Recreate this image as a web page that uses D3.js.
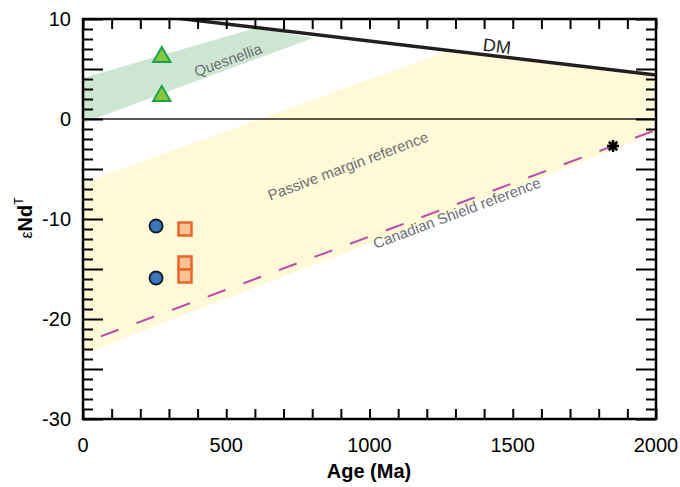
<!DOCTYPE html>
<html>
<head>
<meta charset="utf-8">
<script src="https://cdn.jsdelivr.net/npm/d3@7"></script>
<style>
  body { margin: 0; background: #fff; }
  text { font-family: "Liberation Sans", Arial, sans-serif; }
</style>
</head>
<body>
<svg id="chart" width="680" height="487"></svg>
<script>
// data (age in Ma, epsilon Nd)
var xTicks = [0, 500, 1000, 1500, 2000];
var yTicks = [10, 0, -10, -20, -30];

var dmLine = [[0, 11.2], [2000, 4.4]];
var quesnelliaBand = [[0, 4.1], [603, 9.1], [803, 8.1], [0, -0.4]];
var passiveBand = [[0, -6.4], [1274, 6.8], [2000, 4.4], [2000, -1.4], [0, -23.5]];
var shieldLine = [[0, -22.4], [2000, -1.1]];

var triangles = [[275, 6.2], [275, 2.3]];
var circles = [[255, -10.7], [255, -15.9]];
var squares = [[356, -11.0], [356, -14.4], [356, -15.7]];
var stars = [[1850, -2.7]];

var labels = [
  {text: "Quesnellia", x: 506, y: 5.9, angle: -20, color: "#6d6e71", size: 15},
  {text: "Passive margin reference", x: 925, y: -4.7, angle: -20.5, color: "#6d6e71", size: 15},
  {text: "Canadian Shield reference", x: 1305, y: -9.4, angle: -20.5, color: "#6d6e71", size: 15},
  {text: "DM", x: 1445, y: 7.3, angle: 7, color: "#231f20", size: 18}
];

var svg = d3.select("#chart");
var pLeft = 83, pRight = 656, pTop = 19, pBottom = 419;

var x = d3.scaleLinear().domain([0, 2000]).range([pLeft, pRight]);
var y = d3.scaleLinear().domain([-30, 10]).range([pBottom, pTop]);

svg.append("clipPath").attr("id", "plotClip")
  .append("rect")
  .attr("x", pLeft).attr("y", pTop)
  .attr("width", pRight - pLeft).attr("height", pBottom - pTop);

var plot = svg.append("g").attr("clip-path", "url(#plotClip)");

var line = d3.line().x(function(d) { return x(d[0]); }).y(function(d) { return y(d[1]); });

// shaded fields
plot.append("path")
  .attr("d", line(passiveBand) + "Z")
  .attr("fill", "#fff9d8");

plot.append("path")
  .attr("d", line(quesnelliaBand) + "Z")
  .attr("fill", "#cde6d4");

// zero line
plot.append("line")
  .attr("x1", x(0)).attr("x2", x(2000))
  .attr("y1", y(0)).attr("y2", y(0))
  .attr("stroke", "#231f20").attr("stroke-width", 1.5);

// Canadian shield reference
plot.append("path")
  .attr("d", line(shieldLine))
  .attr("fill", "none")
  .attr("stroke", "#b94aa7")
  .attr("stroke-width", 2)
  .attr("stroke-dasharray", "19,19")
  .attr("stroke-dashoffset", 19);

// depleted mantle
plot.append("path")
  .attr("d", line(dmLine))
  .attr("fill", "none")
  .attr("stroke", "#231f20")
  .attr("stroke-width", 3.5);

// labels
labels.forEach(function(l) {
  svg.append("text")
    .attr("transform", "translate(" + x(l.x) + "," + y(l.y) + ") rotate(" + l.angle + ")")
    .attr("text-anchor", "middle")
    .attr("dy", "0.35em")
    .attr("font-size", l.size)
    .attr("fill", l.color)
    .text(l.text);
});

// points
svg.selectAll(".tri")
  .data(triangles).enter()
  .append("path")
  .attr("class", "tri")
  .attr("transform", function(d) { return "translate(" + x(d[0]) + "," + y(d[1]) + ")"; })
  .attr("d", d3.symbol(d3.symbolTriangle, 130))
  .attr("fill", "#8cc63f")
  .attr("stroke", "#1ba64b")
  .attr("stroke-width", 2);

svg.selectAll(".circ")
  .data(circles).enter()
  .append("circle")
  .attr("class", "circ")
  .attr("cx", function(d) { return x(d[0]); })
  .attr("cy", function(d) { return y(d[1]); })
  .attr("r", 6.5)
  .attr("fill", "#3a77bc")
  .attr("stroke", "#111d2c")
  .attr("stroke-width", 2);

svg.selectAll(".sq")
  .data(squares).enter()
  .append("rect")
  .attr("class", "sq")
  .attr("x", function(d) { return x(d[0]) - 6.5; })
  .attr("y", function(d) { return y(d[1]) - 6.5; })
  .attr("width", 13).attr("height", 13)
  .attr("fill", "#fbc294")
  .attr("stroke", "#e8652c")
  .attr("stroke-width", 2.5);

var starPath = function() {
  var r = 6, p = "";
  for (var a = 0; a < 4; a++) {
    var t = a * Math.PI / 4;
    p += "M" + (-r * Math.cos(t)) + "," + (-r * Math.sin(t)) + "L" + (r * Math.cos(t)) + "," + (r * Math.sin(t));
  }
  return p;
};
svg.selectAll(".star")
  .data(stars).enter()
  .append("path")
  .attr("class", "star")
  .attr("transform", function(d) { return "translate(" + x(d[0]) + "," + y(d[1]) + ")"; })
  .attr("d", starPath())
  .attr("stroke", "#000")
  .attr("stroke-width", 2.5);

// axes: ticks pointing inward on all four sides
var xMinor = d3.range(0, 2001, 100);
var yMinor = d3.range(-30, 11, 1);

var bottomAxis = svg.append("g")
  .attr("transform", "translate(0," + pBottom + ")")
  .call(d3.axisBottom(x).tickValues(xMinor).tickSize(-10).tickFormat(""));
var topAxis = svg.append("g")
  .attr("transform", "translate(0," + pTop + ")")
  .call(d3.axisTop(x).tickValues(xMinor).tickSize(-10).tickFormat(""));
var leftAxis = svg.append("g")
  .attr("transform", "translate(" + pLeft + ",0)")
  .call(d3.axisLeft(y).tickValues(yMinor).tickFormat("")
    .tickSize(-10));
var rightAxis = svg.append("g")
  .attr("transform", "translate(" + pRight + ",0)")
  .call(d3.axisRight(y).tickValues(yMinor).tickFormat("")
    .tickSize(-10));

[bottomAxis, topAxis, leftAxis, rightAxis].forEach(function(a) {
  a.select(".domain").remove();
  a.selectAll("line").attr("stroke", "#000").attr("stroke-width", 2);
});
// longer ticks every 5 on the y axes
leftAxis.selectAll(".tick line").attr("x2", function(d) { return d % 5 === 0 ? 20 : 10; });
rightAxis.selectAll(".tick line").attr("x2", function(d) { return d % 5 === 0 ? -20 : -10; });

svg.append("rect")
  .attr("x", pLeft).attr("y", pTop)
  .attr("width", pRight - pLeft).attr("height", pBottom - pTop)
  .attr("fill", "none")
  .attr("stroke", "#000")
  .attr("stroke-width", 2.5);

// tick labels
svg.selectAll(".xlab")
  .data(xTicks).enter()
  .append("text")
  .attr("class", "xlab")
  .attr("x", function(d) { return x(d); })
  .attr("y", 452)
  .attr("text-anchor", "middle")
  .attr("font-size", 20)
  .attr("fill", "#000")
  .text(function(d) { return d; });

svg.selectAll(".ylab")
  .data(yTicks).enter()
  .append("text")
  .attr("class", "ylab")
  .attr("x", 71)
  .attr("y", function(d) { return y(d); })
  .attr("dy", "0.36em")
  .attr("text-anchor", "end")
  .attr("font-size", 20)
  .attr("fill", "#000")
  .text(function(d) { return d; });

// axis titles
svg.append("text")
  .attr("x", 369).attr("y", 478)
  .attr("text-anchor", "middle")
  .attr("font-size", 20)
  .attr("font-weight", "bold")
  .text("Age (Ma)");

var yt = svg.append("text")
  .attr("transform", "translate(32,218) rotate(-90)")
  .attr("text-anchor", "middle");
yt.append("tspan").attr("font-size", 16).text("\u03b5");
yt.append("tspan").attr("font-size", 20).attr("font-weight", "bold").text("Nd");
yt.append("tspan").attr("font-size", 12).attr("dy", -9).text("T");
</script>
</body>
</html>
